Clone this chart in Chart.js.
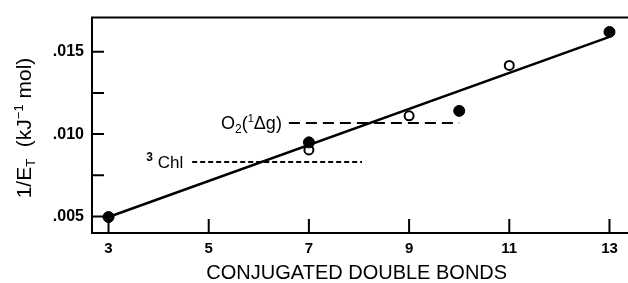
<!DOCTYPE html>
<html>
<head>
<meta charset="utf-8">
<script src="https://cdn.jsdelivr.net/npm/chart.js@4.4.0/dist/chart.umd.min.js"></script>
<style>
  html, body { margin: 0; padding: 0; background: #fff; }
</style>
</head>
<body>
<canvas id="chart" width="628" height="283"></canvas>
<script>
// ---- Data ----
const xTicks    = [3, 5, 7, 9, 11, 13];
const yTicks    = [0.005, 0.0075, 0.010, 0.0125, 0.015];
const yLabels   = ['.005', '', '.010', '', '.015'];
const filledX   = [3, 7, 10, 13];
const filledY   = [0.00497, 0.0095, 0.01141, 0.0162];
const openX     = [7, 9, 11];
const openY     = [0.00904, 0.01111, 0.01417];
const fitX      = [3, 13];
const fitY      = [0.00497, 0.0159];
const o2X       = [6.6, 10.0];
const o2Y       = [0.01068, 0.01068];
const chlX      = [4.67, 8.06];
const chlY      = [0.00831, 0.00831];

const pts = (xs, ys) => xs.map((x, i) => ({ x, y: ys[i] }));
const FONT = '"Liberation Sans", Arial, sans-serif';

// draw a run of text pieces (sub/superscripts) starting at x, baseline y
function drawRuns(ctx, runs, x, y, align) {
  let total = 0;
  runs.forEach(r => { ctx.font = r.w + ' ' + r.s + 'px ' + FONT; total += ctx.measureText(r.t).width; });
  let cx = align === 'right' ? x - total : align === 'center' ? x - total / 2 : x;
  runs.forEach(r => {
    ctx.font = r.w + ' ' + r.s + 'px ' + FONT;
    ctx.fillText(r.t, cx, y + (r.dy || 0));
    cx += ctx.measureText(r.t).width;
  });
}

// ---- Frame, inward ticks, titles and line labels ----
const decor = {
  id: 'decor',
  afterDraw(chart) {
    const { ctx, chartArea: a, scales: { x, y } } = chart;
    ctx.save();
    ctx.strokeStyle = '#000';
    ctx.fillStyle = '#000';
    ctx.lineWidth = 2;
    ctx.beginPath();
    ctx.moveTo(chart.width, a.top); ctx.lineTo(a.left, a.top);
    ctx.lineTo(a.left, a.bottom); ctx.lineTo(chart.width, a.bottom);
    yTicks.forEach(v => { const p = y.getPixelForValue(v); ctx.moveTo(a.left, p); ctx.lineTo(a.left + 12, p); });
    xTicks.forEach(v => { const p = x.getPixelForValue(v); ctx.moveTo(p, a.bottom); ctx.lineTo(p, a.bottom - 14); });
    ctx.stroke();

    ctx.textBaseline = 'alphabetic';
    // x title
    drawRuns(ctx, [{ t: 'CONJUGATED DOUBLE BONDS', s: 20, w: 'normal' }], (a.left + a.right) / 2, 279, 'center');
    // y title
    ctx.save();
    ctx.translate(31, 128);
    ctx.rotate(-Math.PI / 2);
    drawRuns(ctx, [
      { t: '1/E', s: 21, w: 'normal' },
      { t: 'T', s: 13, w: 'normal', dy: 4 },
      { t: '  (kJ', s: 21, w: 'normal' },
      { t: '\u22121', s: 13, w: 'normal', dy: -8 },
      { t: ' mol)', s: 21, w: 'normal' }
    ], 0, 0, 'center');
    ctx.restore();

    // labels next to the dashed lines
    const o2px = x.getPixelForValue(o2X[0]), o2py = y.getPixelForValue(o2Y[0]);
    drawRuns(ctx, [
      { t: 'O', s: 18, w: 'normal' },
      { t: '2', s: 12, w: 'normal', dy: 4 },
      { t: '(', s: 18, w: 'normal' },
      { t: '1', s: 11, w: 'normal', dy: -7 },
      { t: '\u0394g)', s: 18, w: 'normal' }
    ], o2px - 7, o2py + 6, 'right');
    const chpx = x.getPixelForValue(chlX[0]), chpy = y.getPixelForValue(chlY[0]);
    drawRuns(ctx, [
      { t: '3', s: 12, w: 'bold', dy: -7 },
      { t: ' Chl', s: 17, w: 'normal' }
    ], chpx - 9, chpy + 6, 'right');
    ctx.restore();
  }
};

new Chart(document.getElementById('chart'), {
  type: 'scatter',
  data: {
    datasets: [
      { data: pts(filledX, filledY), pointRadius: 5.5, pointBackgroundColor: '#000', pointBorderColor: '#000', pointBorderWidth: 1 },
      { data: pts(openX, openY), pointRadius: 4.5, pointBackgroundColor: '#fff', pointBorderColor: '#000', pointBorderWidth: 2 },
      { data: pts(fitX, fitY), showLine: true, borderColor: '#000', borderWidth: 2.5, pointRadius: 0 },
      { data: pts(o2X, o2Y), showLine: true, borderColor: '#000', borderWidth: 2, borderDash: [11, 6], pointRadius: 0 },
      { data: pts(chlX, chlY), showLine: true, borderColor: '#000', borderWidth: 2, borderDash: [5, 3], pointRadius: 0 }
    ]
  },
  options: {
    responsive: false,
    devicePixelRatio: 1,
    animation: false,
    layout: { padding: { top: 12, right: 0, left: 0, bottom: 0 } },
    plugins: { legend: { display: false }, tooltip: { enabled: false } },
    scales: {
      x: {
        type: 'linear', min: 2.67, max: 13.24,
        afterBuildTicks: s => { s.ticks = xTicks.map(v => ({ value: v })); },
        afterFit: s => { s.height = 50; },
        grid: { display: false, drawTicks: false },
        border: { display: false },
        ticks: { color: '#000', padding: 7, maxRotation: 0, font: { family: FONT, size: 15, weight: 'bold' } }
      },
      y: {
        type: 'linear', min: 0.0040, max: 0.01707,
        afterBuildTicks: s => { s.ticks = yTicks.map(v => ({ value: v })); },
        afterFit: s => { s.width = 92; },
        grid: { display: false, drawTicks: false },
        border: { display: false },
        ticks: { color: '#000', padding: 8, font: { family: FONT, size: 16, weight: 'bold' },
                 callback: (v, i) => yLabels[i] }
      }
    }
  },
  plugins: [decor]
});
</script>
</body>
</html>
